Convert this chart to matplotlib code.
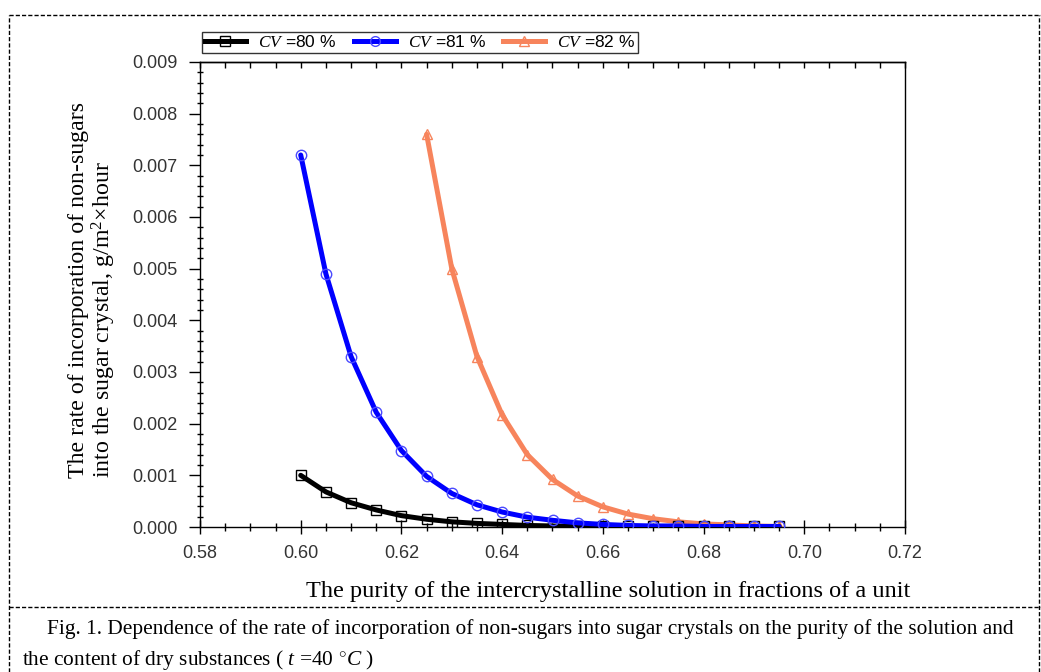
import numpy as np
import matplotlib
matplotlib.use("Agg")
import matplotlib.pyplot as plt
from matplotlib.ticker import MultipleLocator, FormatStrFormatter
from matplotlib.lines import Line2D

# ---- data ----
x_80 = [0.600, 0.605, 0.610, 0.615, 0.620, 0.625, 0.630, 0.635, 0.640, 0.645,
        0.650, 0.655, 0.660, 0.665, 0.670, 0.675, 0.680, 0.685, 0.690, 0.695]
y_80 = [0.00100, 0.00068, 0.00047, 0.00033, 0.00022, 0.00015, 0.00010, 0.00007,
        0.00005, 0.00003, 0.00002, 0.00001, 0.00001, 0.00001, 0.00001, 0.00001,
        0.00001, 0.00001, 0.00001, 0.00001]
x_81 = [0.600, 0.605, 0.610, 0.615, 0.620, 0.625, 0.630, 0.635, 0.640, 0.645,
        0.650, 0.655, 0.660, 0.665, 0.670, 0.675, 0.680, 0.685, 0.690, 0.695]
y_81 = [0.00720, 0.00490, 0.00330, 0.00222, 0.00148, 0.00098, 0.00065, 0.00043,
        0.00029, 0.00019, 0.00013, 0.00008, 0.00005, 0.00003, 0.00002, 0.00002,
        0.00001, 0.00001, 0.00001, 0.00001]
x_82 = [0.625, 0.630, 0.635, 0.640, 0.645, 0.650, 0.655, 0.660, 0.665, 0.670,
        0.675, 0.680, 0.685, 0.690, 0.695]
y_82 = [0.00760, 0.00500, 0.00330, 0.00217, 0.00140, 0.00092, 0.00060, 0.00039,
        0.00025, 0.00016, 0.00010, 0.00006, 0.00004, 0.00002, 0.00001]
labels = [r"$\mathit{CV}$ =80 %", r"$\mathit{CV}$ =81 %", r"$\mathit{CV}$ =82 %"]
xlabel = "The purity of the intercrystalline solution in fractions of a unit"
ylabel = "The rate of incorporation of non-sugars\ninto the sugar crystal, g/m$^2$×hour"
caption1 = "Fig. 1. Dependence of the rate of incorporation of non-sugars into sugar crystals on the purity of the solution and"
caption2 = r"the content of dry substances ( $t$ =40 $^{\circ}C$ )"

plt.rcParams['mathtext.fontset'] = 'custom'
plt.rcParams['mathtext.rm'] = 'Liberation Serif'
plt.rcParams['mathtext.it'] = 'Liberation Serif:italic'

W, H = 1041, 672
fig = plt.figure(figsize=(W/100, H/100), dpi=100)
ax = fig.add_axes([200/W, 1-527/H, (905-200)/W, (527-62)/H])

c80, c81, c82 = "black", "#0000ff", "#f7845c"
lw, ms = 3.6, 7.5
common = dict(lw=lw, ms=ms, mfc="none", mew=1.0, solid_joinstyle="round", solid_capstyle="round")
ax.plot(x_80, y_80, color=c80, marker="s", mec=c80, zorder=3, **common)
ax.plot(x_81, y_81, color=c81, marker="o", mec="#4a4aff", zorder=4, **common)
ax.plot(x_82, y_82, color=c82, marker="^", mec=c82, zorder=2, **common)

ax.set_xlim(0.58, 0.72)
ax.set_ylim(0.0, 0.009)
ax.xaxis.set_major_locator(MultipleLocator(0.02))
ax.xaxis.set_minor_locator(MultipleLocator(0.005))
ax.yaxis.set_major_locator(MultipleLocator(0.001))
ax.yaxis.set_minor_locator(MultipleLocator(0.0002))
ax.xaxis.set_major_formatter(FormatStrFormatter("%.2f"))
ax.yaxis.set_major_formatter(FormatStrFormatter("%.3f"))

ax.tick_params(axis="x", which="major", direction="inout", length=10, width=1, labelsize=13, pad=8)
ax.tick_params(axis="x", which="minor", direction="inout", length=6, width=1)
ax.tick_params(axis="y", which="major", direction="out", length=8, width=1, labelsize=13, pad=8)
ax.tick_params(axis="y", which="minor", direction="inout", length=5, width=1)
# inward ticks along the top edge
axt = ax.secondary_xaxis("top")
axt.xaxis.set_major_locator(MultipleLocator(0.02))
axt.xaxis.set_minor_locator(MultipleLocator(0.005))
axt.tick_params(axis="x", which="both", direction="in", length=4, width=1, labeltop=False)
axt.spines["top"].set_linewidth(1.0)
for lab in ax.get_xticklabels() + ax.get_yticklabels():
    lab.set_fontfamily("Liberation Sans")
    lab.set_color("#333333")
for s in ax.spines.values():
    s.set_linewidth(1.0)

fig.text(608/W, 1-591/H, xlabel, fontfamily="Liberation Serif", fontsize=17.5, ha="center", va="center")
fig.text(93/W, 1-478/H, ylabel, fontfamily="Liberation Serif", fontsize=17.2, rotation=90,
         ha="center", va="bottom", multialignment="left", linespacing=1.05)

handles = [Line2D([], [], color=c80, lw=lw, marker="s", ms=7, mfc="none", mec=c80, mew=1.0),
           Line2D([], [], color=c81, lw=lw, marker="o", ms=7, mfc="none", mec="#4a4aff", mew=1.0),
           Line2D([], [], color=c82, lw=lw, marker="^", ms=7, mfc="none", mec=c82, mew=1.0)]
leg = fig.legend(handles, labels, loc="lower left",
                 bbox_to_anchor=(202/W, 1-53/H), ncol=3, frameon=True,
                 fancybox=False, edgecolor="black", borderpad=0.15, handlelength=2.4,
                 columnspacing=1.0, handletextpad=0.7, borderaxespad=0,
                 prop={"family": "Liberation Sans", "size": 12.5})
leg.get_frame().set_linewidth(1.0)

# dashed frame
dash = dict(transform=fig.transFigure, color="black", lw=1, ls=(0, (3, 1.5)))
fig.add_artist(Line2D([9/W, 9/W], [0, 1-15/H], **dash))
fig.add_artist(Line2D([9/W, 1], [1-15/H, 1-15/H], **dash))
fig.add_artist(Line2D([1039/W, 1039/W], [0, 1-15/H], **dash))
fig.add_artist(Line2D([9/W, 1], [1-607/H, 1-607/H], **dash))

fig.text(47/W, 1-629/H, caption1, fontfamily="Liberation Serif", fontsize=15.4, va="center", ha="left")
fig.text(22/W, 1-660/H, caption2, fontfamily="Liberation Serif", fontsize=15.4, va="center", ha="left")

fig.savefig("out.png", dpi=100)
